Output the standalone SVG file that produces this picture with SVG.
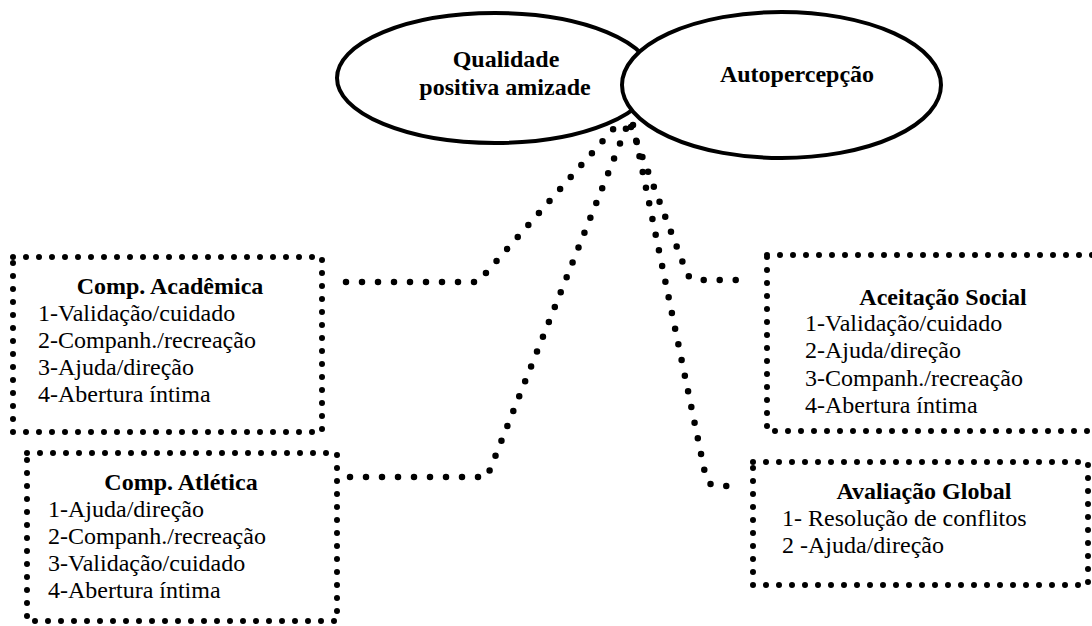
<svg xmlns="http://www.w3.org/2000/svg" width="1092" height="626" viewBox="0 0 1092 626" font-family="'Liberation Serif', 'DejaVu Serif', serif">
  <style>
    .oval { fill: #fff; stroke: #000; stroke-width: 4; }
    .box { fill: none; stroke: #000; stroke-width: 6; stroke-linecap: round; stroke-dasharray: 0 13; }
    .link { fill: none; stroke: #000; stroke-width: 6.5; stroke-linecap: round; stroke-linejoin: round; stroke-dasharray: 0 16; }
    text { font-size: 24px; fill: #000; }
    .title { font-weight: bold; text-anchor: middle; }
  </style>

  <rect width="1092" height="626" fill="#fff"/>

  <!-- central concepts: two overlapping ovals -->
  <g id="qualidade">
    <ellipse class="oval" cx="495" cy="78" rx="158" ry="65"/>
    <text class="title" x="506" y="67">Qualidade</text>
    <text class="title" x="505" y="95">positiva amizade</text>
  </g>
  <g id="autopercepcao">
    <ellipse class="oval" cx="781.5" cy="85" rx="159.5" ry="73"/>
    <text class="title" x="797" y="82">Autopercepção</text>
  </g>

  <!-- dotted connectors from the junction of the ovals -->
  <g id="connectors">
    <path class="link" d="M346 282 H478 L615 127"/>
    <path class="link" d="M350 477 H487 L627 126"/>
    <path class="link" d="M633 125 L706 478 Q709 486 718 486 H735"/>
    <path class="link" d="M631 127 L686 271 Q689 280 698 280 H745"/>
  </g>

  <g id="comp-academica">
    <rect class="box" x="13" y="257" width="309" height="175"/>
    <text class="title" x="170" y="294">Comp. Acadêmica</text>
    <text x="38" y="321">1-Validação/cuidado</text>
    <text x="38" y="348">2-Companh./recreação</text>
    <text x="38" y="375">3-Ajuda/direção</text>
    <text x="38" y="402">4-Abertura íntima</text>
  </g>

  <g id="comp-atletica">
    <rect class="box" x="27" y="453" width="310" height="168"/>
    <text class="title" x="181" y="490">Comp. Atlética</text>
    <text x="48" y="517">1-Ajuda/direção</text>
    <text x="48" y="544">2-Companh./recreação</text>
    <text x="48" y="571">3-Validação/cuidado</text>
    <text x="48" y="598">4-Abertura íntima</text>
  </g>

  <g id="aceitacao-social">
    <rect class="box" x="767" y="255" width="345" height="176"/>
    <text class="title" x="943" y="305">Aceitação Social</text>
    <text x="805" y="331">1-Validação/cuidado</text>
    <text x="805" y="358">2-Ajuda/direção</text>
    <text x="805" y="386">3-Companh./recreação</text>
    <text x="805" y="413">4-Abertura íntima</text>
  </g>

  <g id="avaliacao-global">
    <rect class="box" x="753" y="462" width="335" height="123"/>
    <text class="title" x="924" y="499">Avaliação Global</text>
    <text x="782" y="526">1- Resolução de conflitos</text>
    <text x="782" y="553">2 -Ajuda/direção</text>
  </g>
</svg>
